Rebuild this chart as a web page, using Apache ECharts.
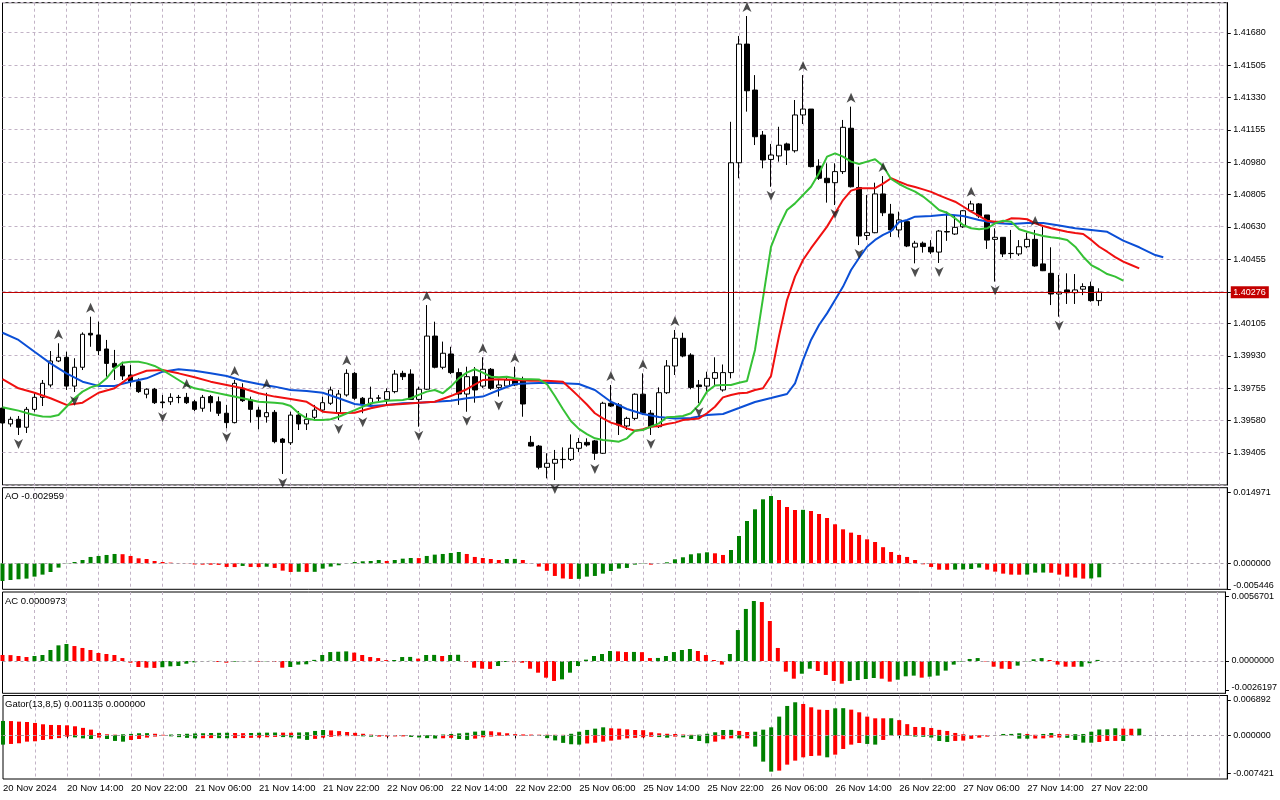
<!DOCTYPE html>
<html><head><meta charset="utf-8">
<script src="https://cdn.jsdelivr.net/npm/echarts@6/dist/echarts.min.js"></script>
<style>html,body{margin:0;padding:0;background:#fff}#c{width:1280px;height:800px}</style>
</head><body><div id="c"></div>
<script>
// ---------- DATA ----------
// hourly candles [open, high, low, close], bar 0 = 20 Nov 2024 06:00
const candles = [
[1.39648,1.39665,1.39551,1.39567],[1.39562,1.39601,1.39547,1.39587],[1.39587,1.39605,1.39502,1.39544],[1.39544,1.39654,1.39513,1.39641],
[1.39641,1.39730,1.39628,1.39706],[1.39706,1.39800,1.39659,1.39782],[1.39773,1.39957,1.39760,1.39903],[1.39903,1.39999,1.39897,1.39923],
[1.39923,1.39953,1.39746,1.39767],[1.39767,1.39918,1.39735,1.39869],[1.39869,1.40058,1.39854,1.40048],[1.40053,1.40143,1.39980,1.40044],
[1.40044,1.40116,1.39935,1.39959],[1.39968,1.40017,1.39818,1.39890],[1.39890,1.39963,1.39800,1.39869],[1.39876,1.39899,1.39800,1.39822],
[1.39827,1.39881,1.39764,1.39791],[1.39791,1.39809,1.39730,1.39737],[1.39723,1.39755,1.39701,1.39750],[1.39750,1.39757,1.39670,1.39677],
[1.39681,1.39719,1.39647,1.39677],[1.39682,1.39728,1.39665,1.39706],[1.39706,1.39719,1.39674,1.39705],[1.39706,1.39730,1.39670,1.39677],
[1.39682,1.39692,1.39632,1.39641],[1.39647,1.39719,1.39628,1.39706],[1.39710,1.39719,1.39628,1.39677],[1.39682,1.39710,1.39605,1.39620],
[1.39620,1.39665,1.39538,1.39569],[1.39569,1.39800,1.39565,1.39782],[1.39755,1.39782,1.39681,1.39688],[1.39692,1.39710,1.39569,1.39641],
[1.39637,1.39655,1.39533,1.39601],[1.39601,1.39731,1.39569,1.39623],[1.39625,1.39637,1.39457,1.39466],[1.39480,1.39486,1.39291,1.39462],
[1.39460,1.39628,1.39448,1.39610],[1.39610,1.39632,1.39529,1.39562],[1.39562,1.39620,1.39529,1.39587],[1.39598,1.39665,1.39583,1.39637],
[1.39637,1.39710,1.39628,1.39677],[1.39674,1.39764,1.39665,1.39746],[1.39623,1.39746,1.39583,1.39724],[1.39719,1.39858,1.39710,1.39836],
[1.39836,1.39843,1.39692,1.39701],[1.39701,1.39708,1.39620,1.39670],[1.39670,1.39764,1.39659,1.39701],[1.39701,1.39719,1.39682,1.39703],
[1.39695,1.39755,1.39670,1.39737],[1.39737,1.39854,1.39728,1.39832],[1.39836,1.39850,1.39800,1.39818],[1.39832,1.39858,1.39692,1.39695],
[1.39695,1.39764,1.39547,1.39750],[1.39750,1.40206,1.39746,1.40038],[1.40038,1.40116,1.39863,1.39869],[1.39869,1.40008,1.39858,1.39945],
[1.39941,1.39980,1.39832,1.39840],[1.39840,1.39863,1.39665,1.39724],[1.39724,1.39872,1.39628,1.39818],[1.39818,1.39870,1.39677,1.39746],
[1.39767,1.39923,1.39757,1.39858],[1.39858,1.39865,1.39746,1.39755],[1.39760,1.39800,1.39710,1.39773],[1.39767,1.39811,1.39762,1.39800],
[1.39800,1.39872,1.39767,1.39773],[1.39804,1.39818,1.39601,1.39670],[1.39462,1.39497,1.39439,1.39442],[1.39442,1.39448,1.39316,1.39327],
[1.39327,1.39403,1.39267,1.39349],[1.39349,1.39421,1.39258,1.39370],[1.39370,1.39435,1.39321,1.39369],[1.39370,1.39505,1.39361,1.39430],
[1.39430,1.39486,1.39410,1.39461],[1.39462,1.39484,1.39439,1.39448],[1.39470,1.39475,1.39367,1.39403],[1.39403,1.39682,1.39399,1.39674],
[1.39674,1.39773,1.39654,1.39659],[1.39665,1.39675,1.39502,1.39556],[1.39551,1.39601,1.39529,1.39592],[1.39592,1.39728,1.39583,1.39723],
[1.39723,1.39836,1.39610,1.39620],[1.39620,1.39637,1.39502,1.39547],[1.39547,1.39760,1.39540,1.39731],[1.39731,1.39908,1.39724,1.39876],
[1.39876,1.40071,1.39827,1.40026],[1.40026,1.40056,1.39923,1.39930],[1.39935,1.39945,1.39750,1.39760],[1.39773,1.39800,1.39674,1.39764],
[1.39767,1.39845,1.39728,1.39809],[1.39809,1.39923,1.39773,1.39840],[1.39746,1.39884,1.39737,1.39840],[1.39840,1.41199,1.39809,1.40977],
[1.40977,1.41664,1.40893,1.41620],[1.41620,1.41772,1.41254,1.41367],[1.41371,1.41452,1.41073,1.41118],[1.41127,1.41149,1.40947,1.40992],
[1.40995,1.41079,1.40847,1.41019],[1.41014,1.41172,1.40983,1.41072],[1.41079,1.41086,1.40965,1.41046],[1.41042,1.41317,1.41032,1.41236],
[1.41236,1.41452,1.41187,1.41268],[1.41268,1.41268,1.40952,1.40956],[1.40959,1.40996,1.40884,1.40893],[1.40893,1.40974,1.40761,1.40869],
[1.40869,1.40974,1.40748,1.40929],[1.40929,1.41209,1.40916,1.41169],[1.41164,1.41281,1.40843,1.40847],[1.40843,1.40956,1.40531,1.40580],
[1.40583,1.40802,1.40558,1.40598],[1.40598,1.40869,1.40595,1.40808],[1.40808,1.40905,1.40688,1.40706],[1.40699,1.40754,1.40575,1.40613],
[1.40613,1.40712,1.40573,1.40667],[1.40658,1.40667,1.40520,1.40526],[1.40520,1.40554,1.40432,1.40541],[1.40541,1.40550,1.40490,1.40523],
[1.40520,1.40558,1.40483,1.40494],[1.40493,1.40613,1.40434,1.40607],[1.40604,1.40712,1.40554,1.40602],[1.40591,1.40689,1.40586,1.40627],
[1.40630,1.40721,1.40624,1.40717],[1.40717,1.40771,1.40710,1.40754],[1.40754,1.40759,1.40678,1.40689],[1.40694,1.40694,1.40510,1.40558],
[1.40562,1.40622,1.40333,1.40573],[1.40573,1.40573,1.40466,1.40483],[1.40486,1.40613,1.40459,1.40485],[1.40483,1.40558,1.40472,1.40522],
[1.40522,1.40598,1.40514,1.40562],[1.40562,1.40613,1.40414,1.40418],[1.40429,1.40630,1.40390,1.40392],[1.40378,1.40519,1.40206,1.40266],
[1.40266,1.40369,1.40143,1.40276],[1.40288,1.40378,1.40212,1.40273],[1.40273,1.40374,1.40212,1.40288],[1.40292,1.40324,1.40260,1.40306],
[1.40306,1.40333,1.40224,1.40230],[1.40230,1.40297,1.40202,1.40276]
];
// Alligator lines [bar, price] (already shown with their forward shifts)
const jaw = [[0,1.40056],[2,1.40017],[4,1.39953],[6,1.39890],[8,1.39836],[10,1.39791],[12,1.39768],[14,1.39768],[16,1.39791],[18,1.39809],[20,1.39845],[22,1.39858],[24,1.39850],[26,1.39836],[28,1.39822],[30,1.39796],[32,1.39778],[34,1.39764],[36,1.39746],[38,1.39740],[40,1.39731],[42,1.39701],[44,1.39670],[46,1.39659],[48,1.39665],[50,1.39674],[52,1.39677],[54,1.39682],[56,1.39688],[58,1.39701],[60,1.39710],[62,1.39746],[64,1.39778],[66,1.39782],[68,1.39785],[70,1.39782],[72,1.39778],[74,1.39746],[76,1.39682],[78,1.39643],[80,1.39616],[82,1.39600],[84,1.39592],[86,1.39594],[88,1.39610],[90,1.39616],[92,1.39648],[94,1.39681],[96,1.39702],[98,1.39724],[99,1.39782],[100,1.39908],[101,1.40017],[102,1.40098],[103,1.40161],[104,1.40233],[105,1.40306],[106,1.40396],[107,1.40461],[108,1.40522],[109,1.40559],[110,1.40586],[111,1.40607],[112,1.40656],[113,1.40667],[114,1.40685],[116,1.40689],[118,1.40697],[120,1.40689],[122,1.40667],[124,1.40651],[126,1.40645],[128,1.40651],[130,1.40651],[132,1.40637],[134,1.40622],[136,1.40613],[138,1.40603],[140,1.40555],[142,1.40519],[144,1.40477],[145,1.40465]];
const teeth = [[0,1.39805],[2,1.39755],[4,1.39731],[6,1.39701],[8,1.39665],[10,1.39677],[12,1.39731],[14,1.39755],[16,1.39818],[18,1.39850],[20,1.39854],[22,1.39836],[24,1.39815],[26,1.39791],[28,1.39773],[30,1.39755],[32,1.39728],[34,1.39710],[36,1.39697],[38,1.39682],[40,1.39628],[42,1.39620],[44,1.39623],[46,1.39647],[48,1.39665],[50,1.39670],[52,1.39677],[54,1.39682],[56,1.39713],[58,1.39750],[60,1.39800],[62,1.39804],[64,1.39800],[66,1.39796],[68,1.39796],[70,1.39791],[71,1.39751],[72,1.39710],[73,1.39667],[74,1.39620],[75,1.39592],[76,1.39569],[77,1.39556],[78,1.39538],[79,1.39525],[80,1.39533],[81,1.39547],[82,1.39551],[83,1.39562],[84,1.39569],[85,1.39583],[86,1.39587],[87,1.39592],[88,1.39620],[89,1.39655],[90,1.39706],[91,1.39719],[92,1.39728],[93,1.39731],[94,1.39746],[95,1.39755],[96,1.39822],[97,1.40038],[98,1.40233],[99,1.40360],[100,1.40450],[101,1.40514],[102,1.40573],[103,1.40631],[104,1.40703],[105,1.40775],[106,1.40826],[107,1.40839],[108,1.40839],[109,1.40839],[110,1.40864],[111,1.40893],[112,1.40874],[113,1.40857],[114,1.40846],[115,1.40833],[116,1.40819],[117,1.40800],[118,1.40783],[119,1.40766],[120,1.40740],[121,1.40712],[122,1.40689],[123,1.40663],[124,1.40658],[125,1.40658],[126,1.40676],[127,1.40675],[128,1.40671],[129,1.40649],[130,1.40634],[131,1.40622],[132,1.40613],[133,1.40603],[134,1.40596],[135,1.40591],[136,1.40559],[137,1.40522],[138,1.40495],[139,1.40466],[140,1.40441],[141,1.40423],[142,1.40405]];
const lips = [[0,1.39652],[1,1.39643],[2,1.39634],[3,1.39621],[4,1.39610],[5,1.39602],[6,1.39601],[7,1.39610],[8,1.39655],[9,1.39701],[10,1.39737],[11,1.39760],[12,1.39773],[13,1.39809],[14,1.39863],[15,1.39894],[16,1.39899],[17,1.39899],[18,1.39890],[19,1.39876],[20,1.39854],[21,1.39827],[22,1.39800],[23,1.39773],[24,1.39755],[26,1.39737],[28,1.39719],[30,1.39701],[32,1.39682],[34,1.39677],[35,1.39673],[36,1.39659],[37,1.39620],[38,1.39592],[39,1.39583],[40,1.39583],[41,1.39587],[42,1.39601],[44,1.39637],[46,1.39674],[48,1.39688],[50,1.39692],[51,1.39701],[52,1.39719],[53,1.39737],[54,1.39746],[55,1.39728],[56,1.39764],[57,1.39809],[58,1.39840],[59,1.39858],[60,1.39840],[61,1.39818],[62,1.39815],[63,1.39818],[64,1.39809],[65,1.39804],[66,1.39804],[67,1.39803],[68,1.39778],[69,1.39713],[70,1.39643],[71,1.39578],[72,1.39535],[73,1.39507],[74,1.39484],[75,1.39475],[76,1.39471],[77,1.39466],[78,1.39484],[79,1.39525],[80,1.39529],[81,1.39547],[82,1.39565],[83,1.39598],[84,1.39601],[85,1.39605],[86,1.39620],[87,1.39665],[88,1.39737],[89,1.39770],[90,1.39773],[91,1.39773],[92,1.39785],[93,1.39795],[94,1.39963],[95,1.40244],[96,1.40521],[97,1.40631],[98,1.40721],[99,1.40757],[100,1.40802],[101,1.40847],[102,1.40920],[103,1.41010],[104,1.41028],[105,1.41010],[106,1.40983],[107,1.40970],[108,1.40983],[109,1.40996],[110,1.40959],[111,1.40889],[112,1.40862],[113,1.40840],[114,1.40821],[115,1.40794],[116,1.40759],[117,1.40721],[118,1.40706],[119,1.40676],[120,1.40640],[121,1.40622],[122,1.40617],[123,1.40622],[124,1.40649],[125,1.40663],[126,1.40658],[127,1.40617],[128,1.40603],[129,1.40591],[130,1.40580],[131,1.40573],[132,1.40568],[133,1.40559],[134,1.40522],[135,1.40468],[136,1.40423],[137,1.40400],[138,1.40374],[139,1.40360],[140,1.40338]];
// Fractal bars
const upFractals = [7,11,23,29,33,43,53,60,64,76,80,84,93,100,106,110,121,129];
const downFractals = [2,9,20,28,35,42,45,52,58,62,69,74,81,87,96,104,107,114,117,124,132];
// Awesome Oscillator
const ao = [
-0.00373,-0.00352,-0.00337,-0.00323,-0.00281,-0.00239,-0.00183,-0.00091,0.00005,0.00028,
0.00070,0.00134,0.00155,0.00176,0.00197,0.00192,0.00155,0.00105,0.00091,0.00049,
0.00028,0.00014,0.00004,-0.00003,-0.00025,-0.00028,-0.00030,-0.00033,-0.00077,-0.00080,
-0.00056,-0.00077,-0.00080,-0.00072,-0.00098,-0.00155,-0.00183,-0.00178,-0.00185,-0.00180,
-0.00112,-0.00070,-0.00042,-0.00005,0.00028,0.00042,0.00049,0.00070,0.00049,0.00070,
0.00098,0.00112,0.00110,0.00155,0.00183,0.00197,0.00218,0.00239,0.00197,0.00134,
0.00112,0.00091,0.00070,0.00091,0.00093,0.00070,0.00005,-0.00070,-0.00158,-0.00267,
-0.00320,-0.00330,-0.00328,-0.00281,-0.00267,-0.00218,-0.00162,-0.00112,-0.00098,-0.00028,
-0.00007,-0.00028,0.00002,0.00021,0.00084,0.00127,0.00190,0.00211,0.00232,0.00211,
0.00176,0.00281,0.00576,0.00893,0.01139,0.01350,0.01420,0.01336,0.01188,0.01125,
0.01128,0.01104,0.01040,0.00956,0.00823,0.00717,0.00647,0.00598,0.00506,0.00450,
0.00340,0.00239,0.00176,0.00134,0.00070,-0.00021,-0.00077,-0.00134,-0.00137,-0.00132,
-0.00130,-0.00120,-0.00091,-0.00134,-0.00176,-0.00218,-0.00239,-0.00241,-0.00237,-0.00197,
-0.00195,-0.00199,-0.00239,-0.00281,-0.00302,-0.00323,-0.00320,-0.002959];
const aoColors = "GGGGGGGGGG"+"GGGGGRRRRR"+"RRRRRRRRRR"+"GRRGRRRGRG"+"GGGGGGGGRG"+"GGRGGGGGRR"+"RRRGGRRRRR"+"RRGGGGGGGG"+"GRGGGGGGGR"+"RGGGGGGRRR"+"GRRRRRRRRR"+"RRRRRRRRRG"+"GGGRRRRRGG"+"GRRRRRGG";
// Accelerator Oscillator
const ac = [
0.00053,0.00052,0.00044,0.00035,0.00044,0.00053,0.00097,0.00138,0.00150,0.00132,
0.00115,0.00097,0.00071,0.00062,0.00053,0.00026,-0.00015,-0.00053,-0.00059,-0.00061,
-0.00055,-0.00047,-0.00044,-0.00024,-0.00012,-0.00002,0.00001,-0.00009,-0.00015,-0.00006,
-0.00002,0.00001,-0.00006,-0.00003,-0.00009,-0.00059,-0.00053,-0.00032,-0.00029,0.00010,
0.00053,0.00079,0.00082,0.00085,0.00074,0.00053,0.00035,0.00026,0.00008,0.00009,
0.00035,0.00036,0.00021,0.00053,0.00054,0.00044,0.00053,0.00055,-0.00009,-0.00059,
-0.00068,-0.00070,-0.00044,-0.00009,-0.00010,-0.00015,-0.00068,-0.00103,-0.00147,-0.00176,
-0.00162,-0.00103,-0.00044,0.00012,0.00044,0.00062,0.00088,0.00085,0.00079,0.00080,
0.00078,0.00026,0.00027,0.00044,0.00079,0.00097,0.00106,0.00088,0.00053,0.00009,
-0.00032,0.00062,0.00273,0.00459,0.00529,0.00520,0.00353,0.00115,-0.00094,-0.00156,
-0.00112,-0.00068,-0.00088,-0.00123,-0.00176,-0.00200,-0.00176,-0.00168,-0.00159,-0.00150,
-0.00156,-0.00182,-0.00165,-0.00135,-0.00129,-0.00147,-0.00138,-0.00129,-0.00085,-0.00032,
-0.00005,0.00018,0.00026,-0.00004,-0.00050,-0.00068,-0.00070,-0.00041,-0.00003,0.00015,
0.00026,0.00009,-0.00032,-0.00050,-0.00051,-0.00050,-0.00020,0.0000973];
const acColors = "RRRRGGGGGR"+"RRRRRRRRRR"+"GGGGGGGRRG"+"GGRGRRGGGG"+"GGGGRRRRRG"+"GGRGGRGGRR"+"RRGGRRRRRR"+"GGGGGGGRRG"+"RRGGGGGRRR"+"RGGGGRRRRR"+"GGRRRRGGGG"+"RRGGGRGGGG"+"GGGRRRRGGG"+"GRRRRGGG";
// Gator oscillator (upper / lower histograms)
const gatorUp = [
0.00280,0.00278,0.00267,0.00260,0.00241,0.00215,0.00202,0.00200,0.00195,0.00176,
0.00145,0.00111,0.00045,0.00020,0.00012,0.00020,0.00027,0.00040,0.00042,0.00030,
0.00010,0.00015,0.00022,0.00030,0.00036,0.00040,0.00045,0.00048,0.00050,0.00045,
0.00042,0.00045,0.00050,0.00052,0.00054,0.00052,0.00050,0.00055,0.00060,0.00085,
0.00103,0.00095,0.00082,0.00065,0.00048,0.00030,0.00013,0.00005,0.00002,0.00003,
0.00004,0.00002,0.00001,0.00002,0.00004,0.00015,0.00026,0.00038,0.00050,0.00072,
0.00090,0.00078,0.00058,0.00040,0.00022,0.00017,0.00014,0.00012,0.00011,0.00010,
0.00009,0.00030,0.00070,0.00105,0.00130,0.00156,0.00137,0.00130,0.00117,0.00104,
0.00100,0.00059,0.00039,0.00030,0.00026,0.00015,0.00010,0.00012,0.00030,0.00059,
0.00104,0.00106,0.00085,0.00065,0.00070,0.00110,0.00156,0.00365,0.00573,0.00645,
0.00612,0.00547,0.00501,0.00495,0.00527,0.00530,0.00501,0.00449,0.00365,0.00332,
0.00332,0.00333,0.00296,0.00218,0.00163,0.00160,0.00143,0.00106,0.00085,0.00046,
0.00020,0.00005,0.00002,0.00001,0.00003,0.00026,0.00027,0.00040,0.00026,0.00010,
0.00026,0.00045,0.00026,0.00020,0.00022,0.00026,0.00070,0.001135,0.00117,0.00137,
0.00130,0.00128,0.00130];
const gatorUpColors = "GRRRRRRRRR"+"RRRRRGGGGR"+"RGGGGGGGGR"+"RGGGGRRGGG"+"GRRRRRRRRG"+"GRRGGGGGGG"+"GRRRRRRRRR"+"RGGGGGRRRR"+"RRRRRRRGGG"+"GGRRGGGGGG"+"RRRRGGRRRR"+"RGRRRRRRRR"+"RRRRGGGGRR"+"GGRRGGGGGG"+"RRG";
const gatorDown = [
-0.00182,-0.00169,-0.00156,-0.00124,-0.00117,-0.00091,-0.00075,-0.00055,-0.00026,-0.00040,
-0.00060,-0.00072,-0.00045,-0.00072,-0.00110,-0.00124,-0.00091,-0.00072,-0.00045,-0.00025,
-0.00005,-0.00020,-0.00036,-0.00050,-0.00059,-0.00057,-0.00055,-0.00056,-0.00058,-0.00055,
-0.00054,-0.00050,-0.00045,-0.00038,-0.00032,-0.00035,-0.00040,-0.00065,-0.00090,-0.00070,
-0.00045,-0.00030,-0.00018,-0.00016,-0.00015,-0.00020,-0.00027,-0.00025,-0.00023,-0.00022,
-0.00021,-0.00032,-0.00042,-0.00055,-0.00063,-0.00058,-0.00050,-0.00072,-0.00090,-0.00065,
-0.00039,-0.00025,-0.00011,-0.00010,-0.00009,-0.00008,-0.00007,-0.00012,-0.00055,-0.00100,
-0.00148,-0.00175,-0.00182,-0.00160,-0.00145,-0.00124,-0.00104,-0.00085,-0.00059,-0.00050,
-0.00040,-0.00030,-0.00035,-0.00046,-0.00026,-0.00040,-0.00072,-0.00111,-0.00156,-0.00124,
-0.00078,-0.00059,-0.00060,-0.00059,-0.00221,-0.00514,-0.00710,-0.00690,-0.00573,-0.00495,
-0.00430,-0.00404,-0.00397,-0.00430,-0.00378,-0.00267,-0.00182,-0.00150,-0.00169,-0.00182,
-0.00091,-0.00003,-0.00005,-0.00010,-0.00026,-0.00030,-0.00044,-0.00111,-0.00130,-0.00110,
-0.00104,-0.00070,-0.00046,-0.00026,-0.00002,-0.00001,-0.00001,-0.00065,-0.00066,-0.00063,
-0.00060,-0.00045,-0.00044,-0.00050,-0.00091,-0.00143,-0.00145,-0.00130,-0.00111,-0.00110,-0.00111];
const gatorDownColors = "GRRRRRRRRG"+"GGRGGGRRRR"+"RGGGGRRGGR"+"RRRRRGGGGR"+"RRRRRGGRRR"+"RGGGGRRGGR"+"RRRRRRRGGG"+"GGGRRRRRRR"+"RRGGRGGGGR"+"RRGRGGGRRR"+"RRRGRRRRGG"+"RRGGGGGGGR"+"RRRRRRRGGR"+"RRRGGGGRRRG";
// Axis labels
const timeTicks = [[0,'20 Nov 2024'],[8,'20 Nov 14:00'],[16,'20 Nov 22:00'],[24,'21 Nov 06:00'],[32,'21 Nov 14:00'],[40,'21 Nov 22:00'],[48,'22 Nov 06:00'],[56,'22 Nov 14:00'],[64,'22 Nov 22:00'],[72,'25 Nov 06:00'],[80,'25 Nov 14:00'],[88,'25 Nov 22:00'],[96,'26 Nov 06:00'],[104,'26 Nov 14:00'],[112,'26 Nov 22:00'],[120,'27 Nov 06:00'],[128,'27 Nov 14:00'],[136,'27 Nov 22:00']];
const gridPrices = [1.39405,1.39580,1.39755,1.39930,1.40105,1.40280,1.40455,1.40630,1.40805,1.40980,1.41155,1.41330,1.41505,1.41680];
const priceLabels = [1.39405,1.39580,1.39755,1.39930,1.40105,1.40276,1.40455,1.40630,1.40805,1.40980,1.41155,1.41330,1.41505,1.41680];
const lastPrice = 1.40276;
const aoLabels = [-0.005446, 0, 0.014971];
const acLabels = [-0.0026197, 0, 0.0056701];
const gatorLabels = [-0.007421, 0, 0.006892];
const aoText = 'AO -0.002959';
const acText = 'AC 0.0000973';
const gatorText = 'Gator(13,8,5) 0.001135 0.000000';

// ---------- CHART ----------
const FONT = 'Liberation Sans';
const GRID_C = '#c2b3c6';
const GREEN = '#008000', RED = '#ff0000';
const NSLOTS = 154;
const slots = Array.from({length: NSLOTS}, (_, i) => i);
const tickMap = new Map(timeTicks);
const LEFT = 2.5, WIDTH = 1224.8;
const MAIN_MIN = 1.392311, MAIN_MAX = 1.418442;
// helper axis in "grid step" units so horizontal grid lines fall on gridPrices
const gStep = gridPrices[1] - gridPrices[0];
const helperMin = (MAIN_MIN - gridPrices[0]) / gStep;
const helperMax = (MAIN_MAX - gridPrices[0]) / gStep;

const grids = [
  {left: LEFT, width: WIDTH, top: 2.7, height: 482.3},
  {left: LEFT, width: WIDTH, top: 487.7, height: 101.6},
  {left: LEFT, width: WIDTH, top: 592.0, height: 101.3},
  {left: LEFT, width: WIDTH, top: 695.5, height: 83.5}
].map(g => Object.assign(g, {show: true, borderColor: '#000', borderWidth: 1, backgroundColor: '#fff'}));

function xAx(gi, labels) {
  return {
    type: 'category', gridIndex: gi, data: slots, boundaryGap: false,
    axisLine: {show: false},
    axisTick: {show: labels, interval: (i) => tickMap.has(i), length: 3, lineStyle: {color: '#000'}},
    axisLabel: {show: labels, interval: (i) => tickMap.has(i), formatter: (v, i) => tickMap.get(i) || '',
      align: 'left', margin: 4, color: '#000', fontSize: 9.5, fontFamily: FONT},
    splitLine: {show: true, interval: (i) => i % 4 === 0 && i > 0, lineStyle: {color: GRID_C, type: [3, 3], width: 1}}
  };
}
function oscY(gi, min, max, labels, dec, lowPad) {
  return {
    type: 'value', gridIndex: gi, position: 'right', min: min, max: max,
    axisLine: {show: true, lineStyle: {color: '#000'}},
    axisTick: {show: true, customValues: labels, length: 3.5, lineStyle: {color: '#000'}},
    axisLabel: {customValues: labels, margin: 6, color: '#000', fontSize: 9, fontFamily: FONT,
      formatter: (v) => v === labels[0] ? '{lo|' + v.toFixed(dec) + '}' : v.toFixed(dec),
      rich: {lo: {padding: [0, 0, lowPad, 0], fontSize: 9, fontFamily: FONT, color: '#000'}}},
    splitLine: {show: false}
  };
}
const zeroLine = {silent: true, symbol: ['none', 'none'], label: {show: false}, animation: false, precision: 8,
  lineStyle: {color: '#a9a0ab', type: [3, 3], width: 1}, data: [{yAxis: 0}]};
const colored = (vals, cols) => vals.map((v, i) => ({value: v, itemStyle: {color: cols[i] === 'G' ? GREEN : RED}}));

const upPath = 'path://M5,0 L10,11 L5,8 L0,11 Z';
const downPath = 'path://M0,0 L5,3 L10,0 L5,11 Z';

const option = {
  animation: false,
  backgroundColor: '#fff',
  textStyle: {fontFamily: FONT},
  grid: grids,
  xAxis: [xAx(0, false), xAx(1, false), xAx(2, false), xAx(3, true)],
  yAxis: [
    {type: 'value', gridIndex: 0, position: 'right', min: MAIN_MIN, max: MAIN_MAX,
      axisLine: {show: true, lineStyle: {color: '#000'}},
      axisTick: {show: true, customValues: priceLabels, length: 3.5, lineStyle: {color: '#000'}},
      axisLabel: {customValues: priceLabels, margin: 3.5, fontFamily: FONT,
        formatter: (v) => (Math.abs(v - lastPrice) < 1e-9 ? '{c|' : '{n|') + v.toFixed(5) + '}',
        rich: {n: {padding: [0, 0, 0, 2.5], fontSize: 9, color: '#000', fontFamily: FONT},
               c: {backgroundColor: '#c40000', color: '#fff', padding: [2, 3, 1, 2.5], fontSize: 9, fontFamily: FONT}}},
      splitLine: {show: false}},
    oscY(1, -0.005485, 0.015949, aoLabels, 6, 8),
    oscY(2, -0.002848, 0.006085, acLabels, 7, 6),
    oscY(3, -0.008535, 0.007773, gatorLabels, 6, 0),
    {type: 'value', gridIndex: 0, position: 'left', min: helperMin, max: helperMax, interval: 1,
      axisLine: {show: false}, axisTick: {show: false}, axisLabel: {show: false},
      splitLine: {show: true, lineStyle: {color: GRID_C, type: [3, 3], width: 1}}}
  ],
  series: [
    {type: 'candlestick', xAxisIndex: 0, yAxisIndex: 0, z: 3, clip: false, barWidth: 5, silent: true,
      data: candles.map(r => [r[0], r[3], r[2], r[1]]),
      itemStyle: {color: '#ffffff', color0: '#000000', borderColor: '#000000', borderColor0: '#000000', borderColorDoji: '#000000', borderWidth: 1},
      markLine: {silent: true, symbol: ['none', 'none'], label: {show: false}, animation: false, precision: 8,
        lineStyle: {color: '#c00000', type: 'solid', width: 1}, data: [{yAxis: lastPrice}]}},
    {type: 'line', xAxisIndex: 0, yAxisIndex: 0, data: jaw, symbol: 'none', z: 4, silent: true,
      lineStyle: {color: '#0b4fd6', width: 2}},
    {type: 'line', xAxisIndex: 0, yAxisIndex: 0, data: teeth, symbol: 'none', z: 4, silent: true,
      lineStyle: {color: '#f01010', width: 2}},
    {type: 'line', xAxisIndex: 0, yAxisIndex: 0, data: lips, symbol: 'none', z: 4, silent: true,
      lineStyle: {color: '#35c135', width: 2}},
    {type: 'scatter', xAxisIndex: 0, yAxisIndex: 0, z: 5, silent: true, clip: true,
      data: upFractals.map(i => [i, candles[i][1]]), symbol: upPath, symbolSize: [9, 10], symbolOffset: [0, -9],
      itemStyle: {color: '#222222'}},
    {type: 'scatter', xAxisIndex: 0, yAxisIndex: 0, z: 5, silent: true, clip: true,
      data: downFractals.map(i => [i, candles[i][2]]), symbol: downPath, symbolSize: [9, 10], symbolOffset: [0, 9],
      itemStyle: {color: '#222222'}},
    {type: 'bar', xAxisIndex: 1, yAxisIndex: 1, barWidth: 4, silent: true, data: colored(ao, aoColors), markLine: zeroLine},
    {type: 'bar', xAxisIndex: 2, yAxisIndex: 2, barWidth: 4, silent: true, data: colored(ac, acColors), markLine: zeroLine},
    {type: 'bar', xAxisIndex: 3, yAxisIndex: 3, barWidth: 4, barGap: '-100%', silent: true, data: colored(gatorUp, gatorUpColors), markLine: zeroLine},
    {type: 'bar', xAxisIndex: 3, yAxisIndex: 3, barWidth: 4, barGap: '-100%', silent: true, data: colored(gatorDown, gatorDownColors)}
  ],
  graphic: [
    {type: 'text', left: 5, top: 491, silent: true, style: {text: aoText, fill: '#000', font: '9.5px "Liberation Sans"'}},
    {type: 'text', left: 5, top: 596, silent: true, style: {text: acText, fill: '#000', font: '9.5px "Liberation Sans"'}},
    {type: 'text', left: 5, top: 699, silent: true, style: {text: gatorText, fill: '#000', font: '9.5px "Liberation Sans"'}}
  ]
};
const chart = echarts.init(document.getElementById('c'), null, {width: 1280, height: 800});
chart.setOption(option);
</script></body></html>
